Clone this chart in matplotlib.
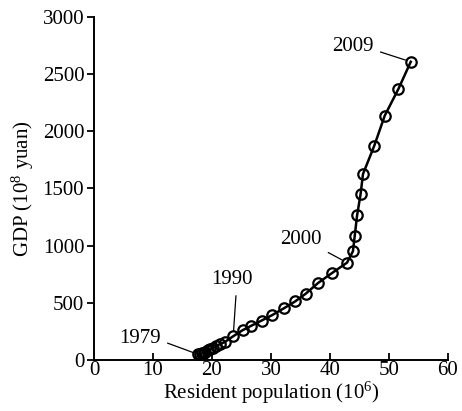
import matplotlib
matplotlib.use("Agg")
import matplotlib.pyplot as plt

plt.rcParams['font.family'] = ['Liberation Serif', 'DejaVu Serif']
plt.rcParams['mathtext.fontset'] = 'custom'
plt.rcParams['mathtext.rm'] = 'Liberation Serif'
plt.rcParams['mathtext.default'] = 'regular'

# resident population (10^6) and GDP (10^8 yuan), 1979-2009
years = list(range(1979, 2010))
population = [17.7, 18.0, 18.3, 18.6, 18.9, 19.3, 19.7, 20.2, 20.7, 21.3, 22.2,
              23.6, 25.2, 26.7, 28.4, 30.2, 32.2, 34.1, 35.9, 38.0, 40.3,
              42.9, 43.9, 44.2, 44.6, 45.2, 45.6, 47.5, 49.3, 51.6, 53.7]
gdp = [45, 50, 55, 62, 70, 80, 92, 105, 118, 135, 155,
       205, 258, 298, 342, 390, 450, 510, 578, 672, 757,
       850, 950, 1084, 1263, 1452, 1626, 1872, 2139, 2371, 2610]

# labelled years and where their text sits
label_years = [1979, 1990, 2000, 2009]
label_pos = [(7.8, 183), (23.3, 704), (35.1, 1052), (43.9, 2748)]
label_relpos = [(1.0, 0.4), (0.62, 0.0), (1.0, 0.0), (1.0, 0.3)]

fig = plt.figure(figsize=(4.62, 4.11), dpi=100)
ax = fig.add_axes([0.2035, 0.125, 0.766, 0.833])

ax.plot(population, gdp, color='black', lw=1.8, marker='o', ms=7.5,
        mfc='none', mec='black', mew=1.6)

for yr, pos, rp in zip(label_years, label_pos, label_relpos):
    i = years.index(yr)
    ax.annotate(str(yr), xy=(population[i], gdp[i]), xytext=pos,
                ha='center', va='center', fontsize=15,
                arrowprops=dict(arrowstyle='-', lw=0.9, color='black',
                                relpos=rp, shrinkA=3, shrinkB=4))

ax.set_xlim(0, 60)
ax.set_ylim(0, 3000)
ax.set_xticks(range(0, 61, 10))
ax.set_yticks(range(0, 3001, 500))
ax.spines['top'].set_visible(False)
ax.spines['right'].set_visible(False)
for s in ['left', 'bottom']:
    ax.spines[s].set_linewidth(1.4)
ax.tick_params(axis='x', direction='in', length=5, width=1.3, labelsize=15, pad=1)
ax.tick_params(axis='y', direction='out', length=5, width=1.3, labelsize=15, pad=2)

ax.set_xlabel('Resident population (10$^6$)', fontsize=15, labelpad=0)
ax.set_ylabel('GDP (10$^8$ yuan)', fontsize=15, labelpad=5)

fig.savefig('out.png', dpi=100)
